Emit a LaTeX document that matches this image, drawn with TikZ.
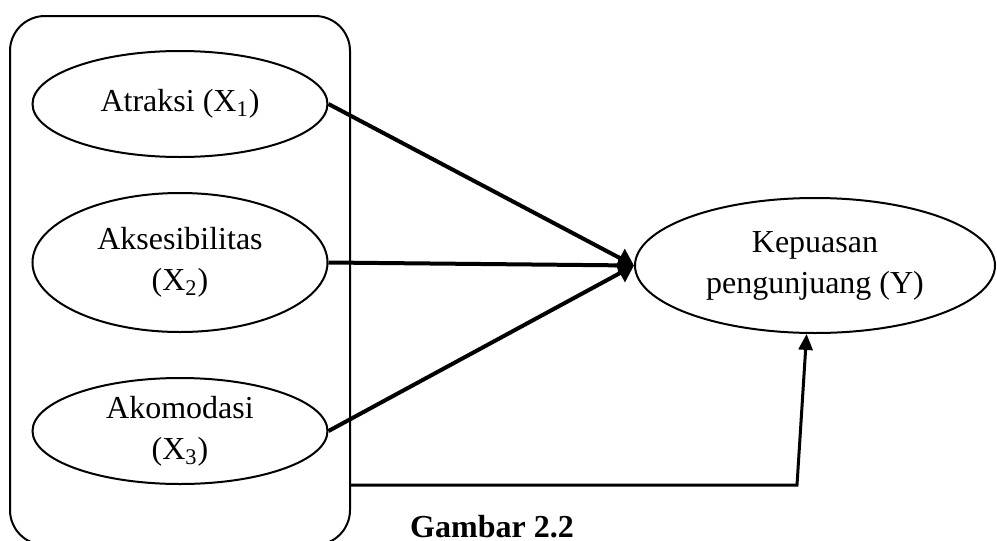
\documentclass[tikz,border=0pt]{standalone}
\usepackage{fontspec}
\setmainfont{Liberation Serif}
\usepackage{tikz}
\usetikzlibrary{positioning,calc,shapes.geometric,arrows.meta}

\begin{document}
\begin{tikzpicture}[x=0.5pt,y=-0.5pt,
    font=\fontsize{16}{20.5}\selectfont,
    var/.style={draw,ellipse,line width=1pt,inner sep=0pt,align=center,
                minimum width=147.5pt,minimum height=53pt},
    link/.style={line width=2pt,-{Triangle[length=8pt,width=10pt]}},
    baseline/.style={line width=1.5pt,-{Triangle[length=8pt,width=7pt]}}]

  \useasboundingbox (0,0) rectangle (997,541);

  \node[draw,line width=1pt,rounded corners=17.5pt,
        minimum width=170pt,minimum height=264.5pt] (box) at (180,280.5) {};

  \node[var] (atr) at (180,104) {Atraksi (X\textsubscript{1})};
  \node[var,minimum height=69.5pt] (aks) at (180,262.5) {Aksesibilitas\\(X\textsubscript{2})};
  \node[var] (ako) at (180,431) {Akomodasi\\(X\textsubscript{3})};

  \node[var,minimum width=180pt,minimum height=67.5pt] (kep) at (815,265.5)
       {Kepuasan\\pengunjuang (Y)};

  \draw[link] (atr.east) -- (kep.west);
  \draw[link] (aks.east) -- (kep.west);
  \draw[link] (ako.east) -- (kep.west);

  \coordinate (bend) at (797,485);
  \draw[baseline] (box.east |- bend) -- (bend) -- (kep.263);

  \node[font=\fontsize{16}{18.5}\selectfont\bfseries,anchor=base,inner sep=0pt] (cap) at (492,537) {Gambar 2.2};

\end{tikzpicture}
\end{document}
